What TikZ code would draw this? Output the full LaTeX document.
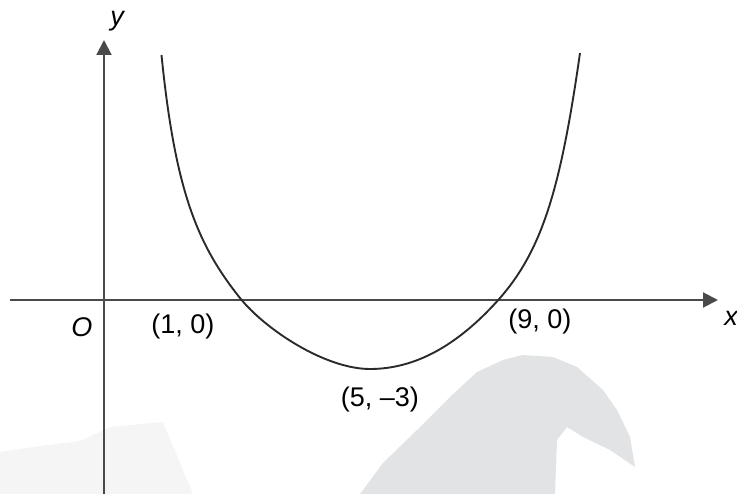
\documentclass[tikz,border=0pt]{standalone}
\usepackage{fontspec}
\setmainfont{Liberation Sans}
\usetikzlibrary{arrows.meta}
\definecolor{axisgray}{HTML}{4A4A4A}
\definecolor{curveblack}{HTML}{2A2A2A}
\definecolor{wmark}{HTML}{E1E3E4}
\begin{document}
\begin{tikzpicture}[x=1pt,y=-1pt,
  axisline/.style={draw=axisgray,line width=2pt,-{Triangle[length=15pt,width=15pt]}},
  curveline/.style={draw=curveblack,line width=1.9pt},
  lbl/.style={font=\fontsize{27}{30}\selectfont,inner sep=0pt,text=black},
  ilbl/.style={lbl,font=\fontsize{27}{30}\selectfont\itshape}]
\useasboundingbox (0,0) rectangle (737,494);
% faint watermark shapes
\fill[wmark!35] (0,494) -- (0,452) -- (40,446) -- (73,442) -- (83,440) -- (110,427) -- (163,422) -- (193,494) -- cycle;
\fill[wmark] (360,494) -- (383,463) -- (417,430) -- (450,397) -- (477,372) -- (503,360) -- (523,355) -- (553,357) -- (577,367) -- (603,390) -- (617,410) -- (630,437) -- (635,467) -- (610,450) -- (583,437) -- (567,427) -- (557,440) -- (555,494) -- cycle;
% axes
\coordinate (xs) at (10,300);
\coordinate (xe) at (718,300);
\coordinate (ys) at (104,494);
\coordinate (ye) at (104,40);
\draw[axisline] (xs) -- (xe);
\draw[axisline] (ys) -- (ye);
% curve
\coordinate (ctop1) at (161.5,55);
\coordinate (root1) at (240,298);
\coordinate (cmin) at (370,369);
\coordinate (root9) at (496.7,301.7);
\coordinate (ctop2) at (580,53);
\draw[curveline] (ctop1) .. controls (175.2,191.7) and (197.8,245.2) .. (root1)
  .. controls (265,329.25) and (325,369) .. (cmin)
  .. controls (415,369) and (456.7,345.7) .. (root9)
  .. controls (542,251.9) and (560.4,190) .. (ctop2);
% labels
\node[ilbl] (ylab) at (117,21) {y};
\node[ilbl] (xlab) at (731,318) {x};
\node[ilbl] (olab) at (82,327) {O};
\node[lbl] (p1) at (183,327) {(1, 0)};
\node[lbl] (p9) at (540,322) {(9, 0)};
\node[lbl] (p5) at (380,400) {(5, –3)};
\end{tikzpicture}
\end{document}
